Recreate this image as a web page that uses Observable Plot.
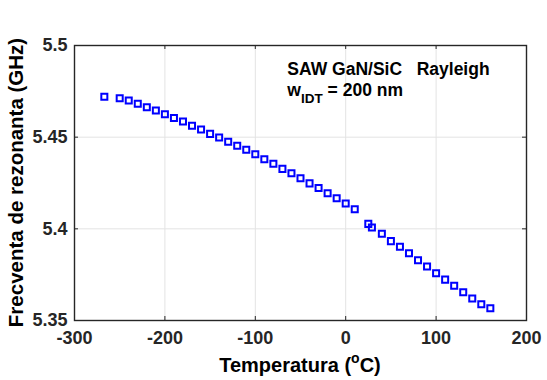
<!DOCTYPE html>
<html>
<head>
<meta charset="utf-8">
<script src="https://cdn.jsdelivr.net/npm/d3@7"></script>
<script src="https://cdn.jsdelivr.net/npm/@observablehq/plot@0.6"></script>
<style>
  html, body { margin: 0; padding: 0; background: #fff; }
  svg text { white-space: pre; }
</style>
</head>
<body>
<div id="chart"></div>
<script>
const temps = [-267, -250, -240, -230, -220, -210, -200, -190, -180, -170, -160, -150, -140, -130, -120, -110, -100, -90, -80, -70, -60, -50, -40, -30, -20, -10, 0, 10, 25, 29, 40, 50, 60, 70, 80, 90, 100, 110, 120, 130, 140, 150, 160];
const freqs = [5.4720, 5.4712, 5.4700, 5.4682, 5.4663, 5.4645, 5.4625, 5.4605, 5.4585, 5.4562, 5.4542, 5.4518, 5.4498, 5.4475, 5.4453, 5.4431, 5.4407, 5.4380, 5.4355, 5.4327, 5.4303, 5.4276, 5.4248, 5.4223, 5.4194, 5.4167, 5.4138, 5.4107, 5.4027, 5.4007, 5.3973, 5.3933, 5.3902, 5.3867, 5.3829, 5.3794, 5.3758, 5.3723, 5.3689, 5.3654, 5.3620, 5.3589, 5.3567];
const xTicks = [-300, -200, -100, 0, 100, 200];
const yTicks = [5.35, 5.4, 5.45, 5.5];
const xLabel = ["Temperatura (", "o", "C)"];
const yLabel = "Frecventa de rezonanta (GHz)";
const note1 = "SAW GaN/SiC   Rayleigh";
const note2 = ["w", "IDT", " = 200 nm"];
const noteAt = {x: -64, y: 5.4836};

const data = temps.map((t, i) => ({t, f: freqs[i]}));

const W = 547, H = 380, mL = 74, mR = 21, mT = 45, mB = 60;
const pw = W - mL - mR, ph = H - mT - mB;
const tk = 4;
const font = "'Liberation Sans', Arial, Helvetica, sans-serif";

const plot = Plot.plot({
  width: W, height: H,
  marginLeft: mL, marginRight: mR, marginTop: mT, marginBottom: mB,
  x: {domain: [-300, 200]},
  y: {domain: [5.35, 5.5]},
  style: {fontFamily: font, fontWeight: "bold", fontSize: "18px", color: "#262626", background: "#fff"},
  marks: [
    Plot.gridX(xTicks, {stroke: "#e3e3e3", strokeOpacity: 1, strokeWidth: 1}),
    Plot.gridY(yTicks, {stroke: "#e3e3e3", strokeOpacity: 1, strokeWidth: 1}),
    Plot.tickX(xTicks, {x: d => d, insetTop: ph - tk, stroke: "#262626"}),
    Plot.tickX(xTicks, {x: d => d, insetBottom: ph - tk, stroke: "#262626"}),
    Plot.tickY(yTicks, {y: d => d, insetRight: pw - tk, stroke: "#262626"}),
    Plot.tickY(yTicks, {y: d => d, insetLeft: pw - tk, stroke: "#262626"}),
    Plot.axisX(xTicks, {tickSize: 0, tickPadding: 11, tickFormat: d => String(d), label: null, fontSize: 18, fill: "#262626"}),
    Plot.axisY(yTicks, {tickSize: 0, tickPadding: 7, tickFormat: d => String(d), label: null, fontSize: 18, fill: "#262626"}),
    Plot.dot(data, {x: "t", y: "f", symbol: "square", r: 3.4, stroke: "#0000ff", strokeWidth: 2, fill: "none"}),
    Plot.frame({stroke: "#262626", strokeWidth: 1.4})
  ]
});

const svg = d3.select(plot);
const sx = plot.scale("x"), sy = plot.scale("y");

// x label
const xl = svg.append("text")
  .attr("x", mL + pw / 2).attr("y", 372)
  .attr("text-anchor", "middle")
  .attr("font-size", 20).attr("font-weight", "bold").attr("fill", "#000")
  .attr("font-family", font);
xl.append("tspan").text(xLabel[0]);
xl.append("tspan").attr("font-size", 14).attr("dy", -9).text(xLabel[1]);
xl.append("tspan").attr("dy", 9).text(xLabel[2]);

// y label
svg.append("text")
  .attr("transform", `translate(23,${mT + ph / 2}) rotate(-90)`)
  .attr("text-anchor", "middle")
  .attr("font-size", 20.5).attr("font-weight", "bold").attr("fill", "#000")
  .attr("font-family", font)
  .text(yLabel);

// annotation
const ax = sx.apply(noteAt.x), ay = sy.apply(noteAt.y);
svg.append("text")
  .attr("x", ax).attr("y", ay)
  .attr("text-anchor", "start")
  .attr("font-size", 17.5).attr("font-weight", "bold").attr("fill", "#000")
  .attr("font-family", font)
  .text(note1);
const n2 = svg.append("text")
  .attr("x", ax).attr("y", ay + 21)
  .attr("text-anchor", "start")
  .attr("font-size", 17.5).attr("font-weight", "bold").attr("fill", "#000")
  .attr("font-family", font);
n2.append("tspan").text(note2[0]);
n2.append("tspan").attr("font-size", 13.5).attr("dy", 7).text(note2[1]);
n2.append("tspan").attr("dy", -7).text(note2[2]);

document.getElementById("chart").appendChild(plot);
</script>
</body>
</html>
